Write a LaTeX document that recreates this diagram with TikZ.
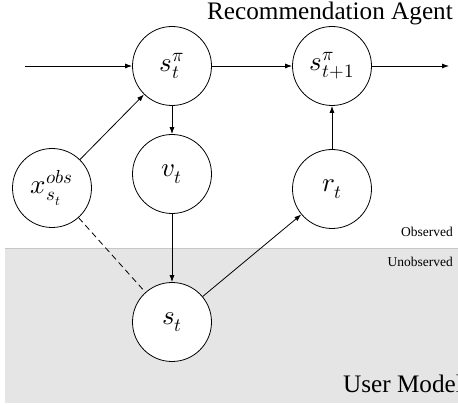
\documentclass[tikz,border=0pt]{standalone}
\usepackage{fontspec}
\usepackage{unicode-math}
\setmainfont{Liberation Serif}
\setmathfont{Latin Modern Math}
\usetikzlibrary{arrows.meta}
\tikzset{
  var/.style={circle,draw,line width=0.8pt,minimum size=79pt,inner sep=0pt,font=\fontsize{27}{29}\selectfont},
  conn/.style={line width=0.8pt,-{Latex[length=7pt,width=5pt]}},
  big/.style={font=\fontsize{25.2}{27}\selectfont,inner sep=0pt},
  small/.style={font=\fontsize{13.5}{15}\selectfont,inner sep=0pt}
}
\begin{document}
\begin{tikzpicture}[x=1pt,y=-1pt]
\useasboundingbox (0,0) rectangle (458,406);
\fill[gray!20] (5,248) rectangle (458,403);
\draw[gray!45,line width=0.6pt] (5,248) -- (458,248);
\node[big,anchor=base east] (ra) at (453,20) {Recommendation Agent};
\node[big,anchor=base west] (um) at (343,392) {User Model};
\node[small,anchor=base east] (obs) at (453,237) {Observed};
\node[small,anchor=base east] (unobs) at (453,267) {Unobserved};
\node[var] (sp) at (172,66) {$s_t^{\pi}$};
\node[var] (sp1) at (332,66) {$s_{t+1}^{\pi}$};
\node[var] (v) at (172,174) {$v_t$};
\node[var] (x) at (52,188) {$x_{s_t}^{obs}$};
\node[var] (r) at (332,189) {$r_t$};
\node[var,fill=white] (s) at (172,322) {$s_t$};
\coordinate (in) at (25,66);
\coordinate (out) at (449,66);
\draw[conn] (in) -- (sp);
\draw[conn] (sp) -- (sp1);
\draw[conn] (sp1) -- (out);
\draw[conn] (sp) -- (v);
\draw[conn] (x) -- (sp);
\draw[conn] (v) -- (s);
\draw[conn] (s) -- (r);
\draw[conn] (r) -- (sp1);
\draw[line width=0.8pt,dash pattern=on 6pt off 4pt] (x) -- (s);
\end{tikzpicture}
\end{document}
